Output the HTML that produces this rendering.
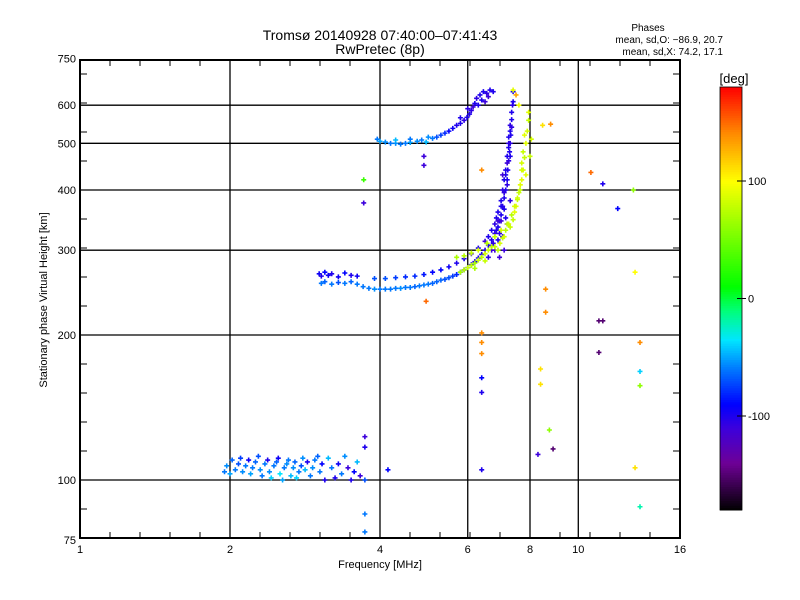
<!DOCTYPE html>
<html><head><meta charset="utf-8"><style>
body{margin:0;background:#fff;}
svg{display:block;font-family:"Liberation Sans",sans-serif;}
</style></head><body>
<svg id="chart" width="800" height="600" xmlns="http://www.w3.org/2000/svg">
<rect width="800" height="600" fill="#fff"/>
<text x="380" y="40" font-size="14" text-anchor="middle">Tromsø 20140928 07:40:00–07:41:43</text>
<text x="380" y="54" font-size="14" text-anchor="middle">RwPretec (8p)</text>
<text x="648" y="31" font-size="10" text-anchor="middle">Phases</text>
<text x="723" y="43" font-size="10" text-anchor="end">mean, sd,O: −86.9, 20.7</text>
<text x="723" y="55" font-size="10" text-anchor="end">mean, sd,X:  74.2, 17.1</text>
<text transform="translate(47,300) rotate(-90)" font-size="11" text-anchor="middle">Stationary phase Virtual Height [km]</text>
<text x="380" y="568" font-size="11" text-anchor="middle">Frequency [MHz]</text>
<text x="734" y="83" font-size="13" text-anchor="middle">[deg]</text>
<g id="grid"></g><g id="pts"></g><g id="axes"></g><g id="cbar"></g>
</svg>
<script>
const xTicks=[1,2,4,6,8,10,16];
const yTicks=[75,100,200,300,400,500,600,750];
const yGrid=[100,200,300,400,500,600];
const xGrid=[2,4,6,8,10];
const cbTicks=[100,0,-100];
// E layer
const eFreq=[1.95,1.97,2.0,2.02,2.05,2.08,2.1,2.12,2.15,2.18,2.2,2.22,2.25,2.28,2.3,2.32,2.35,2.38,2.4,2.42,2.45,2.48,2.5,2.52,2.55,2.57,2.6,2.62,2.65,2.68,2.7,2.72,2.75,2.78,2.8,2.83,2.86,2.9,2.93,2.96,3.0,3.03,3.06,3.1,3.15,3.2,3.25,3.3,3.35,3.4,3.45,3.5,3.55,3.6,3.65,3.73,3.73,3.73,3.73,3.73,4.15];
const eHeight=[104,107,103,110,105,108,111,104,107,110,103,106,109,112,105,102,108,110,104,101,107,109,111,103,100,106,108,110,102,106,109,101,104,107,111,105,109,102,106,110,112,104,108,100,111,106,101,108,103,112,106,100,104,109,102,123,117,100,85,78,105];
const ePhase=[-60,-55,-50,-65,-60,-70,-75,-55,-60,-95,-50,-60,-65,-70,-55,-60,-60,-100,-55,-40,-60,-65,-95,-35,-50,-60,-55,-60,-45,-55,-65,-40,-60,-70,-55,-45,-100,-60,-55,-60,-65,-60,-90,-100,-45,-60,-100,-95,-60,-55,-110,-100,-90,-45,-110,-110,-100,-70,-60,-60,-90];
// F layer ordinary trace(s)
const oFreq=[3.02,3.05,3.1,3.15,3.2,3.3,3.4,3.5,3.6,3.05,3.1,3.2,3.3,3.4,3.5,3.6,3.7,3.8,3.9,4.0,4.1,4.2,4.3,4.4,4.5,4.6,4.7,4.8,4.9,5.0,5.1,5.2,5.3,5.4,5.5,5.6,5.7,5.8,5.9,6.0,6.1,6.2,6.3,6.4,6.5,6.6,6.7,6.8,6.9,6.95,7.0,7.05,7.1,7.15,7.2,7.22,7.25,7.28,7.3,7.32,7.35,7.38,7.4,3.9,4.1,4.3,4.5,4.7,4.9,5.1,5.3,5.5,5.7,5.9,6.1,6.3,6.5,6.6,6.7,6.8,6.85,6.9,7.0,7.05,7.1,7.15,7.2,7.25,7.3,7.1,7.2,7.3,6.95,7.05,7.15,6.75,6.85,6.9,7.0,7.1,7.15,7.2,7.25,7.3,7.35,7.0,7.1,7.2,7.3,6.8,6.9,6.6,6.7,7.25,7.35,7.4,7.05,6.95];
const oHeight=[268,265,270,266,268,264,269,266,265,256,258,255,257,256,258,255,252,250,249,249,249,249,250,250,251,251,252,253,254,255,256,258,260,261,263,265,267,270,273,276,280,284,289,294,300,307,315,325,335,345,355,370,385,400,420,440,460,480,500,520,560,600,640,262,262,263,264,265,267,270,273,277,282,288,295,303,313,320,330,340,350,360,380,400,420,440,470,500,530,300,340,380,290,320,350,310,330,345,370,395,430,455,490,545,580,345,365,410,470,300,315,290,300,515,540,610,430,325];
const oPhase=[-95,-100,-90,-95,-100,-95,-90,-100,-95,-60,-65,-60,-70,-60,-65,-60,-60,-60,-55,-60,-60,-60,-60,-55,-60,-60,-65,-60,-60,-60,-65,-65,-65,-70,-70,-75,-80,-85,-90,-95,-100,-100,-100,-100,-100,-100,-100,-105,-100,-100,-100,-105,-100,-100,-100,-100,-105,-100,-105,-100,-100,-105,-100,-70,-70,-75,-80,-80,-85,-90,-90,-95,-100,-100,-105,-100,-110,-100,-100,-105,-100,-100,-100,-105,-100,-100,-100,-105,-100,-110,-100,-105,-110,-100,-100,-105,-100,-110,-100,-105,-100,-110,-100,-105,-100,-110,-100,-105,-100,-110,-100,-105,-110,-100,-105,-100,-110,-105,-110];
// F2 upper cusp
const uFreq=[3.95,4.0,4.1,4.2,4.3,4.4,4.5,4.6,4.75,4.85,4.95,5.1,5.2,5.3,5.4,5.5,5.6,5.7,5.8,5.9,5.98,6.05,6.1,6.15,6.2,6.25,6.35,6.45,6.55,6.65,6.75,6.5,6.3,4.9,4.9,4.3,4.6,5.0,5.8,6.0,6.4,6.6];
const uHeight=[510,505,503,500,500,498,500,502,505,508,503,512,515,520,525,530,537,545,550,558,566,575,585,595,605,620,630,640,635,645,640,610,600,470,450,508,510,515,565,590,615,625];
const uPhase=[-60,-50,-55,-60,-55,-60,-60,-50,-55,-60,-45,-60,-70,-75,-80,-90,-95,-100,-100,-105,-100,-100,-105,-110,-100,-105,-100,-100,-105,-100,-100,-110,-100,-110,-110,-45,-60,-55,-100,-105,-100,-110];
// extraordinary trace
const xFreq=[5.8,5.9,6.0,6.1,6.2,6.3,6.4,6.5,6.6,6.7,6.8,6.96,7.05,7.15,7.25,7.4,7.5,7.55,7.64,7.7,7.75,7.8,7.85,7.9,7.95,7.6,7.5,7.4,5.7,5.9,6.1,6.3,6.56,6.8,7.0,7.2,7.35,7.45,7.55,7.65,7.7,7.75,7.8,6.2,6.5,6.9,7.1,7.3,7.45,7.6,7.7,7.85,8.0,8.05,7.95];
const xHeight=[270,273,276,279,282,286,290,295,300,305,305,310,318,330,340,347,370,385,400,420,440,467,500,530,558,600,630,645,290,292,296,300,310,320,330,340,355,370,382,410,440,480,520,275,285,300,320,335,360,395,455,430,470,510,580];
const xPhase=[70,75,80,75,70,80,75,85,80,75,80,85,80,75,85,80,90,85,80,90,85,80,90,85,80,95,130,90,70,75,80,85,75,80,85,80,75,85,80,90,85,80,90,70,80,75,85,80,90,80,85,90,80,85,90];
// scattered echoes
const sFreq=[8.48,8.8,10.6,11.2,12.0,12.9,13.0,11.0,11.2,11.0,13.3,13.3,13.3,13.0,13.3,6.4,6.4,6.4,6.4,6.4,6.4,6.4,4.95,3.71,3.71,8.4,8.4,8.6,8.6,8.3,8.9,8.75];
const sHeight=[545,548,435,412,366,400,270,214,214,184,193,168,157,106,88,202,193,183,163,152,105,440,235,420,376,170,158,249,223,113,116,127];
const sPhase=[110,140,150,-100,-90,60,100,-150,-150,-150,140,-40,60,110,-20,140,140,140,-90,-100,-100,140,150,30,-110,110,110,140,140,-110,-150,60];

const L=80,R=680,T=60,B=538;
const xs=f=>L+150*Math.log2(f);
const ys=h=>480-145*Math.log2(h/100);
const NS="http://www.w3.org/2000/svg";
function mk(tag,attrs,parent){const e=document.createElementNS(NS,tag);for(const k in attrs)e.setAttribute(k,attrs[k]);parent.appendChild(e);return e;}
const stops=[[-180,0,0,0],[-140,110,0,150],[-110,60,0,220],[-90,0,0,255],[-60,0,120,255],[-35,0,230,255],[-10,0,255,120],[10,0,255,0],[100,255,255,0],[140,255,140,0],[180,255,0,0]];
function cmap(v){v=Math.max(-180,Math.min(180,v));for(let i=1;i<stops.length;i++){if(v<=stops[i][0]){const a=stops[i-1],b=stops[i],t=(v-a[0])/(b[0]-a[0]);return `rgb(${[1,2,3].map(j=>Math.round(a[j]+t*(b[j]-a[j]))).join(',')})`;}}return 'rgb(255,0,0)';}
const grid=document.getElementById('grid'),axes=document.getElementById('axes'),pts=document.getElementById('pts'),cb=document.getElementById('cbar');
xGrid.forEach(f=>{const l=mk('line',{x1:xs(f),x2:xs(f),y1:T,y2:B,stroke:'#000','stroke-width':1.3},grid);

});
yGrid.forEach(h=>{const l=mk('line',{x1:L,x2:R,y1:ys(h),y2:ys(h),stroke:'#000','stroke-width':1.3},grid);

});
function drawSeries(F,H,P,name){for(let i=0;i<F.length;i++){const x=xs(F[i]),y=ys(H[i]),c=cmap(P[i]);
const p=mk('path',{d:`M${x-2.5},${y}h5M${x},${y-2.5}v5`,stroke:c,'stroke-width':1.6,fill:'none'},pts);

}}
drawSeries(eFreq,eHeight,ePhase,'e-layer-echo');
drawSeries(oFreq,oHeight,oPhase,'o-trace-echo');
drawSeries(uFreq,uHeight,uPhase,'f2-upper-echo');
drawSeries(xFreq,xHeight,xPhase,'x-trace-echo');
drawSeries(sFreq,sHeight,sPhase,'scatter-echo');
const frame=mk('rect',{x:L,y:T,width:R-L,height:B-T,fill:'none',stroke:'#000','stroke-width':2},axes);


for(let k=1;k<20;k++){const x=L+30*k;if(x>=R)break;mk('line',{x1:x,x2:x,y1:B,y2:B-6,stroke:'#000'},axes);mk('line',{x1:x,x2:x,y1:T,y2:T+6,stroke:'#000'},axes);}
for(let k=-2;k<16;k++){const y=480-29*k;if(y<=T||y>=B)continue;mk('line',{x1:L,x2:L+7,y1:y,y2:y,stroke:'#000'},axes);mk('line',{x1:R,x2:R-7,y1:y,y2:y,stroke:'#000'},axes);}
xTicks.forEach(f=>{const t=mk('text',{x:xs(f),y:553,'font-size':11,'text-anchor':'middle'},axes);t.textContent=f;

});
yTicks.forEach(h=>{const t=mk('text',{x:L-4,y:ys(h)+4,'font-size':11,'text-anchor':'end'},axes);t.textContent=h;

});
// colorbar
const cbT=87,cbB=510,cbL=720,cbW=22;
const cv=v=>cbB-(v+180)/360*(cbB-cbT);
for(let v=-180;v<180;v+=2){mk('rect',{x:cbL,y:cv(v+2),width:cbW,height:(cbB-cbT)/180+0.5,fill:cmap(v+1)},cb);}
const cbf=mk('rect',{x:cbL,y:cbT,width:cbW,height:cbB-cbT,fill:'none',stroke:'#000','stroke-width':0.8},cb);


cbTicks.forEach(v=>{mk('line',{x1:cbL+cbW-5,x2:cbL+cbW+4,y1:cv(v),y2:cv(v),stroke:'#000'},cb);
const t=mk('text',{x:cbL+cbW+6,y:cv(v)+4,'font-size':11},cb);t.textContent=v;

});
</script>
</body></html>
